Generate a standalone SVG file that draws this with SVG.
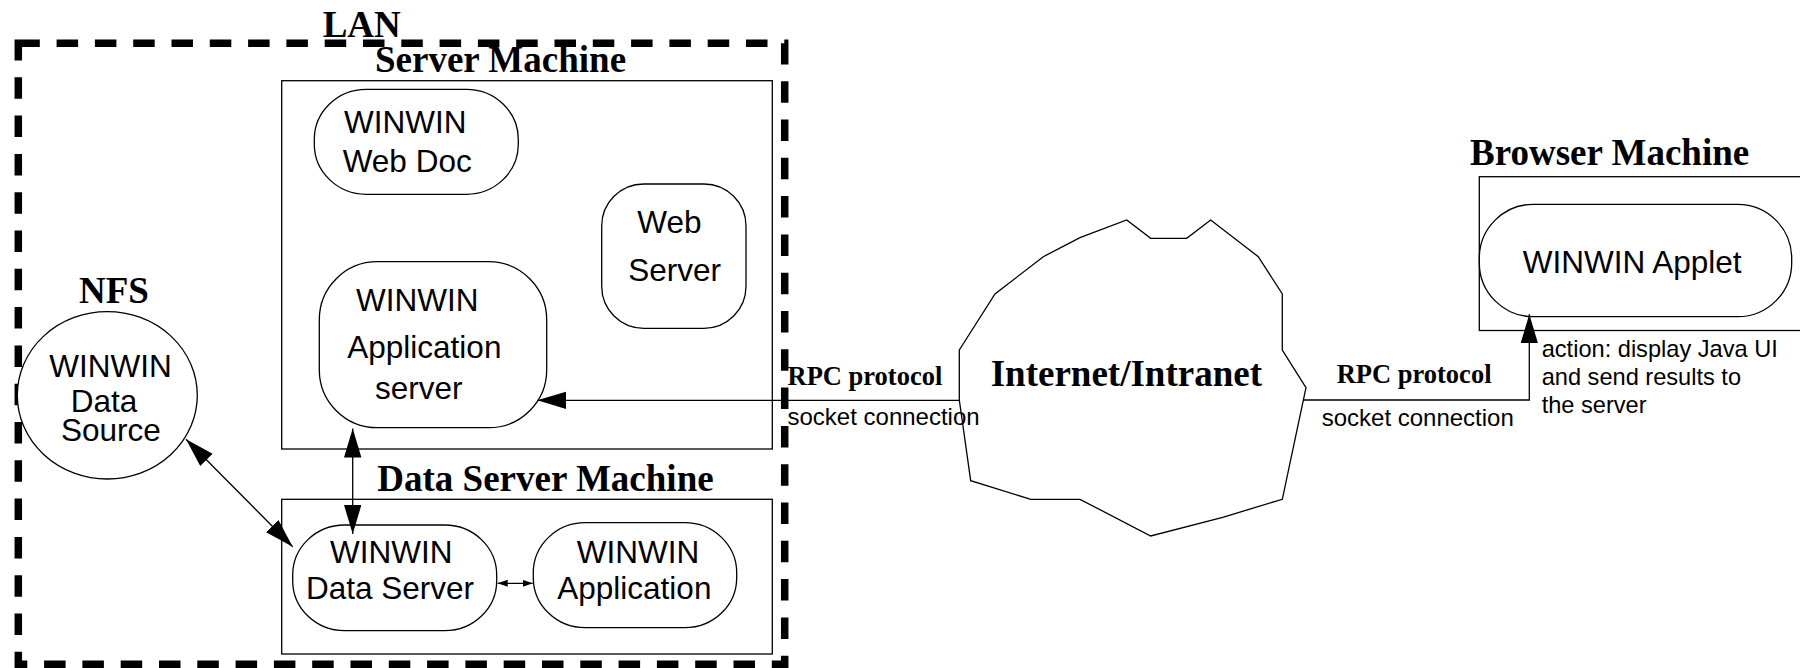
<svg xmlns="http://www.w3.org/2000/svg" width="1800" height="668" viewBox="0 0 1800 668">
<style>
.shape{fill:#fff;stroke:#000;stroke-width:1.3}
.box{fill:none;stroke:#000;stroke-width:1.3}
.lan{fill:none;stroke:#000;stroke-width:7.5;stroke-dasharray:21.5 16.8}
.title{font-family:"Liberation Serif","Times New Roman",serif;font-weight:bold;font-size:37px;fill:#000}
.rpc{font-family:"Liberation Serif","Times New Roman",serif;font-weight:bold;font-size:26.5px;fill:#000}
.lbl{font-family:"Liberation Sans",Arial,sans-serif;font-size:31.5px;fill:#000}
.small{font-family:"Liberation Sans",Arial,sans-serif;font-size:24px;fill:#000}
.act{font-family:"Liberation Sans",Arial,sans-serif;font-size:23.6px;fill:#000}
.conn{fill:none;stroke:#000;stroke-width:1.3}
</style>
<defs>
<marker id="big" markerUnits="userSpaceOnUse" markerWidth="30" markerHeight="18" refX="29" refY="8.7" orient="auto-start-reverse" viewBox="0 0 30 18">
<path d="M0,0 L29,8.7 L0,17.4 z" fill="#000"/>
</marker>
<marker id="tiny" markerUnits="userSpaceOnUse" markerWidth="11" markerHeight="8" refX="10" refY="3.5" orient="auto-start-reverse" viewBox="0 0 11 8">
<path d="M0,0 L10,3.5 L0,7 z" fill="#000"/>
</marker>
</defs>

<g id="lan">
<rect class="lan" x="18.3" y="43.3" width="766.4" height="621"/>
<text class="title" x="322.7" y="36.7">LAN</text>
</g>

<g id="server-machine">
<rect class="box" x="281.7" y="80.7" width="490.6" height="368.3"/>
<text class="title" x="375" y="72.3">Server Machine</text>
</g>

<g id="web-doc">
<rect class="shape" x="314.3" y="89.3" width="204" height="105" rx="52" ry="50"/>
<text class="lbl" x="344" y="132.7">WINWIN</text>
<text class="lbl" x="342.7" y="172.3">Web Doc</text>
</g>

<g id="web-server">
<rect class="shape" x="601.7" y="184" width="144.3" height="144.3" rx="42" ry="42"/>
<text class="lbl" x="637.3" y="232.7">Web</text>
<text class="lbl" x="628.3" y="280.7">Server</text>
</g>

<g id="app-server">
<rect class="shape" x="319.3" y="261.7" width="227.4" height="166" rx="58" ry="58"/>
<text class="lbl" x="356" y="310.7">WINWIN</text>
<text class="lbl" x="347.3" y="358.3">Application</text>
<text class="lbl" x="375" y="399.3">server</text>
</g>

<g id="nfs">
<ellipse class="shape" cx="107.3" cy="395.3" rx="90" ry="83.7"/>
<text class="title" x="79" y="302.7">NFS</text>
<text class="lbl" x="49.3" y="376.7">WINWIN</text>
<text class="lbl" x="70.7" y="412.3">Data</text>
<text class="lbl" x="61" y="441.3">Source</text>
</g>

<g id="data-server-machine">
<rect class="box" x="281.7" y="499.3" width="490.6" height="154.7"/>
<text class="title" x="377.3" y="490.7">Data Server Machine</text>
</g>

<g id="data-server">
<rect class="shape" x="292.7" y="525" width="204" height="105.7" rx="52" ry="50"/>
<text class="lbl" x="330" y="563.3">WINWIN</text>
<text class="lbl" x="306" y="599.3">Data Server</text>
</g>

<g id="application">
<rect class="shape" x="533.3" y="522.7" width="203.4" height="105" rx="52" ry="50"/>
<text class="lbl" x="576.7" y="563.3">WINWIN</text>
<text class="lbl" x="557.3" y="599.3">Application</text>
</g>

<g id="internet">
<polygon class="shape" points="959.3,350 995,294 1043.3,256.7 1080,237.7 1126.7,220 1150.7,238.3 1186.7,238.3 1210.7,220 1258.3,256.7 1282.3,294 1282.3,350 1306,387.7 1282.3,499.3 1222.7,517.3 1150.7,536 1080,499.3 1030.7,499.3 970.7,480.7 959.3,400"/>
<text class="title" x="990.7" y="385.7">Internet/Intranet</text>
</g>

<g id="browser-machine">
<rect class="box" x="1479.3" y="176.7" width="340" height="153.8"/>
<text class="title" x="1470" y="165">Browser Machine</text>
</g>

<g id="applet">
<rect class="shape" x="1479.3" y="204.3" width="312.4" height="112.4" rx="54" ry="54"/>
<text class="lbl" x="1522.7" y="273.3">WINWIN Applet</text>
</g>

<g id="connectors">
<path class="conn" d="M959.3,400.3 L537.3,400.3" marker-end="url(#big)"/>
<path class="conn" d="M1303.4,400 L1529.3,400 L1529.3,314.3" marker-end="url(#big)"/>
<path class="conn" d="M186,439.3 L292.7,546.7" marker-start="url(#big)" marker-end="url(#big)"/>
<path class="conn" d="M352.7,428.5 L352.7,534" marker-start="url(#big)" marker-end="url(#big)"/>
<path class="conn" d="M497.7,583.3 L532.7,583.3" marker-start="url(#tiny)" marker-end="url(#tiny)"/>
</g>

<g id="labels">
<text class="rpc" x="787.5" y="385">RPC protocol</text>
<text class="small" x="787.5" y="425">socket connection</text>
<text class="rpc" x="1336.7" y="383.3">RPC protocol</text>
<text class="small" x="1321.7" y="426">socket connection</text>
<text class="act" x="1541.7" y="357.3">action: display Java UI</text>
<text class="act" x="1541.7" y="385">and send results to</text>
<text class="act" x="1541.7" y="412.7">the server</text>
</g>
</svg>
